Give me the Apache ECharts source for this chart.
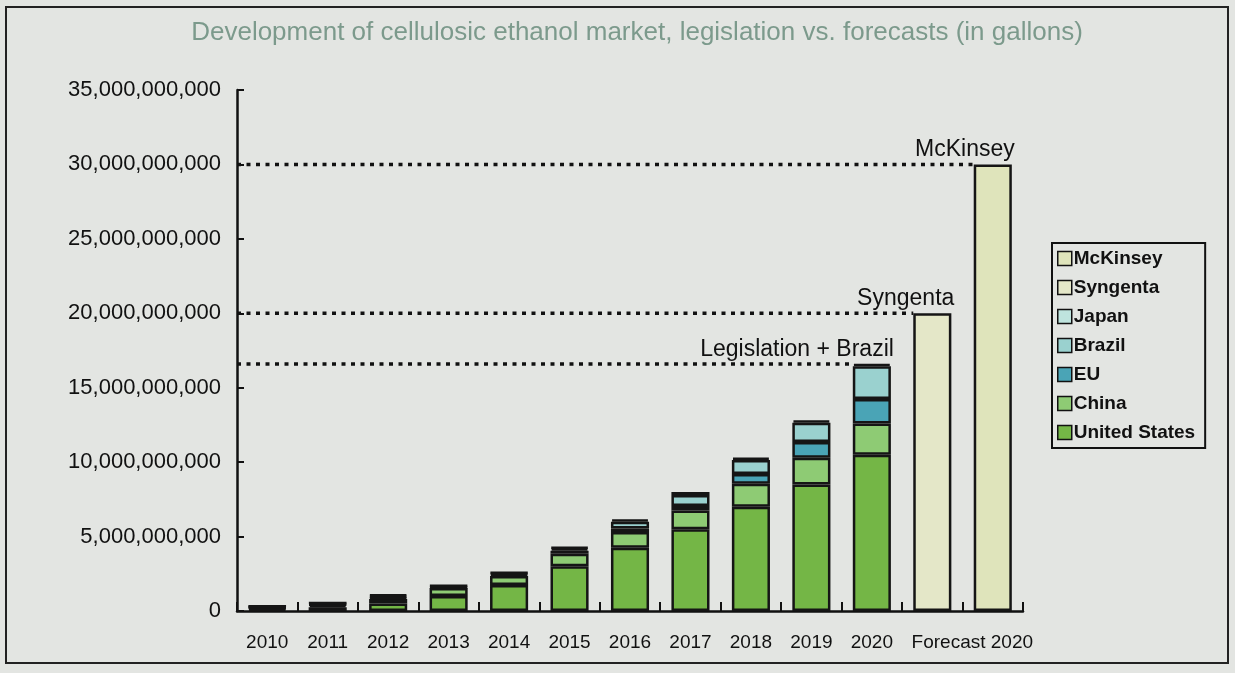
<!DOCTYPE html>
<html><head><meta charset="utf-8">
<script src="https://cdn.jsdelivr.net/npm/echarts@6/dist/echarts.min.js"></script>
<style>html,body{margin:0;padding:0;background:#e3e5e2;} #c{width:1235px;height:673px;}</style>
</head><body><div id="c"></div>
<script>
// ---- data (gallons) ----
const categories = ['2010','2011','2012','2013','2014','2015','2016','2017','2018','2019','2020','Forecast 2020 (Syngenta)','Forecast 2020 (McKinsey)'];
const tickLabels = ['2010','2011','2012','2013','2014','2015','2016','2017','2018','2019','2020','Forecast 2020',''];
const unitedStates = [0.10e9, 0.25e9, 0.50e9, 1.00e9, 1.75e9, 3.00e9, 4.25e9, 5.50e9, 7.00e9, 8.50e9, 10.50e9, null, null];
const china        = [0.10e9, 0.15e9, 0.30e9, 0.55e9, 0.60e9, 0.85e9, 1.05e9, 1.25e9, 1.55e9, 1.80e9, 2.10e9, null, null];
const eu           = [0.05e9, 0.05e9, 0.10e9, 0.05e9, 0.10e9, 0.20e9, 0.25e9, 0.30e9, 0.65e9, 1.05e9, 1.65e9, null, null];
const brazil       = [0.05e9, 0.08e9, 0.10e9, 0.08e9, 0.10e9, 0.15e9, 0.45e9, 0.75e9, 0.95e9, 1.30e9, 2.20e9, null, null];
const japan        = [0.03e9, 0.03e9, 0.10e9, 0.04e9, 0.05e9, 0.10e9, 0.15e9, 0.20e9, 0.15e9, 0.15e9, 0.15e9, null, null];
const syngenta     = [null, null, null, null, null, null, null, null, null, null, null, 20e9, null];
const mckinsey     = [null, null, null, null, null, null, null, null, null, null, null, null, 30e9];
const yTicks = [0, 5e9, 10e9, 15e9, 20e9, 25e9, 30e9, 35e9];
// reference lines: value and the category whose bar they run up to
const refLines = [
  { name: 'McKinsey', value: 30e9, barIndex: 12 },
  { name: 'Syngenta', value: 20e9, barIndex: 11 },
  { name: 'Legislation + Brazil', value: 16.6e9, barIndex: 10 }
];
const legendOrder = ['McKinsey','Syngenta','Japan','Brazil','EU','China','United States'];

// ---- styles ----
const BORDER = '#151515';
const barW = 0.63; // fraction of category
const colors = {
  'United States': '#74b646',
  'China': '#8ecb74',
  'EU': '#4aa4b6',
  'Brazil': '#9ad1cf',
  'Japan': '#bfe4de',
  'Syngenta': '#e4e7c8',
  'McKinsey': '#dfe4bb'
};
const font = '"Liberation Sans", Arial, sans-serif';

function barSeries(name, data, labelText, labelIndex) {
  return {
    name, type: 'bar', stack: 'total', barWidth: (barW * 100) + '%',
    data: data.map((v, i) => {
      if (labelText && i === labelIndex && v != null) {
        return { value: v, label: { show: true, position: 'top', align: 'right', offset: [22, 0],
          formatter: labelText, fontSize: 23, color: '#111', fontFamily: font, distance: 3 } };
      }
      return v;
    }),
    itemStyle: { color: colors[name], borderColor: BORDER, borderWidth: 2.5 },
    emphasis: { disabled: true },
    z: 3
  };
}

const series = [
  barSeries('United States', unitedStates),
  barSeries('China', china),
  barSeries('EU', eu),
  barSeries('Brazil', brazil),
  barSeries('Japan', japan, 'Legislation + Brazil', 10),
  barSeries('Syngenta', syngenta, 'Syngenta', 11),
  barSeries('McKinsey', mckinsey, 'McKinsey', 12)
];
refLines.forEach(r => {
  series.push({
    name: r.name + ' line', type: 'line', xAxisIndex: 1, yAxisIndex: 0,
    data: [[-0.5, r.value], [r.barIndex - barW / 2, r.value]],
    symbol: 'none', silent: true, z: 2,
    lineStyle: { color: '#111', width: 3.5, type: [4, 5.5] }
  });
});

const chart = echarts.init(document.getElementById('c'), null, { renderer: 'canvas' });
chart.setOption({
  backgroundColor: '#e3e5e2',
  animation: false,
  title: {
    text: 'Development of cellulosic ethanol market, legislation vs. forecasts (in gallons)',
    left: 632, textAlign: 'center', top: 15,
    textStyle: { fontFamily: font, fontSize: 26, fontWeight: 'normal', color: '#7c9a8c' }
  },
  graphic: [{ type: 'rect', silent: true, shape: { x: 6, y: 7, width: 1222, height: 656 },
    style: { fill: 'none', stroke: '#222', lineWidth: 2 } }],
  legend: {
    data: legendOrder, orient: 'vertical', left: 1052, top: 243,
    itemWidth: 14, itemHeight: 14, itemGap: 10, icon: 'rect',
    padding: [6, 10, 6, 5], borderColor: '#111', borderWidth: 2,
    itemStyle: { borderColor: '#111', borderWidth: 1.5 },
    textStyle: { fontFamily: font, fontSize: 19, fontWeight: 'bold', color: '#111', padding: [0, 0, 0, -3] },
    selectedMode: false
  },
  grid: { left: 237, right: 212, top: 90, bottom: 62, containLabel: false },
  xAxis: [{
    type: 'category', data: categories,
    axisLine: { lineStyle: { color: '#111', width: 2.5 } },
    axisTick: { show: true, inside: true, length: 9, interval: 0, lineStyle: { color: '#111', width: 2 } },
    axisLabel: {
      interval: 0, margin: 22, fontFamily: font, fontSize: 19, color: '#111',
      formatter: (v, i) => i === 11 ? '{f|' + tickLabels[i] + '}' : tickLabels[i],
      rich: { f: { fontFamily: font, fontSize: 19, color: '#111', padding: [0, 0, 0, 80] } }
    },
    splitLine: { show: false }
  }, {
    type: 'value', min: -0.5, max: 12.5, show: false
  }],
  yAxis: {
    type: 'value', min: 0, max: 35e9, interval: 5e9,
    axisLine: { show: true, onZero: false, lineStyle: { color: '#111', width: 2.5 } },
    axisTick: { show: true, inside: true, length: 7, lineStyle: { color: '#111', width: 2 } },
    axisLabel: { margin: 16, fontFamily: font, fontSize: 22, color: '#111',
      formatter: v => yTicks.includes(v) ? v.toLocaleString('en-US') : '' },
    splitLine: { show: false }
  },
  series
});
</script></body></html>
